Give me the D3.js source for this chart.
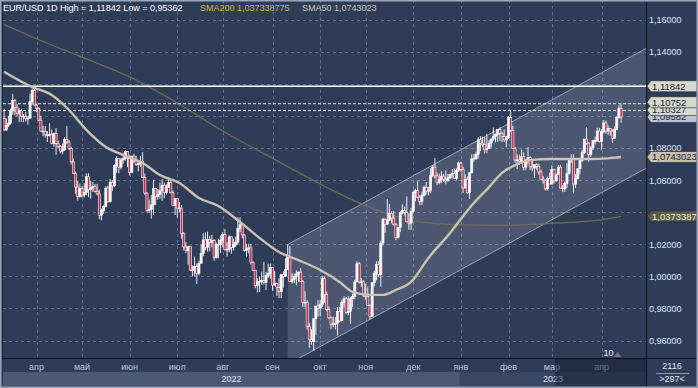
<!DOCTYPE html>
<meta charset="utf-8">
<script src="https://cdn.jsdelivr.net/npm/d3@7"></script>
<style>
  body { margin: 0; background: #2f3c58; }
  svg { display: block; font-family: "Liberation Sans", Arial, sans-serif; }
</style>
<div id="chart"></div>
<script>

// EUR/USD daily candles, [open, high, low, close], one array per month
var mar22 = [[1.0985,1.1042,1.0906,1.0912],[1.0912,1.0985,1.0905,1.0941],[1.0941,1.1000,1.0930,1.0955],[1.0955,1.1044,1.0945,1.1030],[1.1030,1.1137,1.1005,1.1095],
  [1.1095,1.1105,1.1003,1.1050],[1.1050,1.1072,1.0996,1.1016],[1.1016,1.1046,1.0960,1.1031],[1.1031,1.1041,1.0962,1.0998],[1.0998,1.1011,1.0960,1.0995],
  [1.0995,1.1025,1.0965,1.0983],[1.0983,1.0998,1.0944,1.0985],[1.0985,1.1137,1.0985,1.1089],[1.1089,1.1170,1.1069,1.1158],[1.1158,1.1184,1.1064,1.1067]];
var apr22 = [[1.1067,1.1076,1.1024,1.1046],[1.1046,1.1054,1.0970,1.0973],[1.0973,1.1000,1.0902,1.0904],[1.0904,1.0938,1.0873,1.0903],[1.0903,1.0936,1.0864,1.0881],
  [1.0881,1.0905,1.0837,1.0876],[1.0876,1.0954,1.0871,1.0885],[1.0885,1.0915,1.0822,1.0828],[1.0828,1.0894,1.0808,1.0890],[1.0890,1.0924,1.0757,1.0826],
  [1.0826,1.0846,1.0800,1.0810],[1.0810,1.0817,1.0766,1.0780],[1.0780,1.0827,1.0760,1.0788],[1.0788,1.0866,1.0782,1.0852],[1.0852,1.0936,1.0825,1.0837],
  [1.0837,1.0850,1.0786,1.0796],[1.0796,1.0806,1.0697,1.0713],[1.0713,1.0734,1.0637,1.0640],[1.0640,1.0653,1.0515,1.0556],[1.0556,1.0593,1.0472,1.0497],
  [1.0497,1.0578,1.0490,1.0545]];
var may22 = [[1.0545,1.0562,1.0490,1.0506],[1.0506,1.0580,1.0492,1.0522],[1.0522,1.0641,1.0506,1.0620],[1.0620,1.0642,1.0493,1.0540],[1.0540,1.0595,1.0484,1.0550],
  [1.0550,1.0589,1.0525,1.0560],[1.0560,1.0575,1.0522,1.0530],[1.0530,1.0577,1.0505,1.0513],[1.0513,1.0540,1.0354,1.0380],[1.0380,1.0422,1.0349,1.0410],
  [1.0410,1.0443,1.0390,1.0435],[1.0435,1.0562,1.0430,1.0550],[1.0550,1.0565,1.0458,1.0465],[1.0465,1.0607,1.0460,1.0586],[1.0586,1.0600,1.0532,1.0563],
  [1.0563,1.0697,1.0558,1.0690],[1.0690,1.0748,1.0645,1.0735],[1.0735,1.0736,1.0642,1.0680],[1.0680,1.0737,1.0666,1.0725],[1.0725,1.0765,1.0700,1.0733],
  [1.0733,1.0787,1.0720,1.0778],[1.0778,1.0780,1.0680,1.0733]];
var jun22 = [[1.0733,1.0757,1.0627,1.0648],[1.0648,1.0750,1.0642,1.0749],[1.0749,1.0764,1.0706,1.0719],[1.0719,1.0750,1.0688,1.0696],[1.0696,1.0710,1.0653,1.0704],
  [1.0704,1.0749,1.0681,1.0716],[1.0716,1.0773,1.0612,1.0615],[1.0615,1.0640,1.0506,1.0518],[1.0518,1.0524,1.0397,1.0410],[1.0410,1.0478,1.0396,1.0416],
  [1.0416,1.0506,1.0359,1.0445],[1.0445,1.0601,1.0382,1.0546],[1.0546,1.0551,1.0443,1.0496],[1.0496,1.0545,1.0477,1.0509],[1.0509,1.0583,1.0484,1.0534],
  [1.0534,1.0605,1.0470,1.0566],[1.0566,1.0584,1.0486,1.0521],[1.0521,1.0573,1.0511,1.0553],[1.0553,1.0615,1.0552,1.0583],[1.0583,1.0606,1.0517,1.0520],
  [1.0520,1.0535,1.0437,1.0442],[1.0442,1.0487,1.0382,1.0484]];
var jul22 = [[1.0484,1.0486,1.0366,1.0425],[1.0425,1.0462,1.0400,1.0425],[1.0425,1.0444,1.0235,1.0265],[1.0265,1.0276,1.0162,1.0183],[1.0183,1.0213,1.0144,1.0160],
  [1.0160,1.0190,1.0072,1.0185],[1.0185,1.0190,1.0033,1.0039],[1.0039,1.0068,0.9999,1.0036],[1.0036,1.0122,0.9998,1.0061],[1.0061,1.0081,0.9952,1.0019],
  [1.0019,1.0097,1.0006,1.0081],[1.0081,1.0200,1.0081,1.0141],[1.0141,1.0269,1.0125,1.0227],[1.0227,1.0273,1.0162,1.0180],[1.0180,1.0278,1.0154,1.0230],
  [1.0230,1.0253,1.0155,1.0212],[1.0212,1.0258,1.0180,1.0222],[1.0222,1.0232,1.0096,1.0118],[1.0118,1.0210,1.0110,1.0200],[1.0200,1.0235,1.0112,1.0198],
  [1.0198,1.0254,1.0145,1.0222]];
var aug22 = [[1.0222,1.0275,1.0180,1.0260],[1.0260,1.0294,1.0160,1.0165],[1.0165,1.0215,1.0123,1.0168],[1.0168,1.0254,1.0150,1.0246],[1.0246,1.0250,1.0141,1.0180],
  [1.0180,1.0235,1.0160,1.0196],[1.0196,1.0248,1.0183,1.0212],[1.0212,1.0368,1.0202,1.0297],[1.0297,1.0368,1.0275,1.0321],[1.0321,1.0330,1.0237,1.0258],
  [1.0258,1.0260,1.0154,1.0160],[1.0160,1.0201,1.0122,1.0170],[1.0170,1.0203,1.0141,1.0177],[1.0177,1.0202,1.0074,1.0088],[1.0088,1.0092,1.0033,1.0037],
  [1.0037,1.0040,0.9926,0.9942],[0.9942,0.9989,0.9900,0.9968],[0.9968,0.9999,0.9902,0.9969],[0.9969,1.0030,0.9948,0.9974],[0.9974,1.0090,0.9948,0.9963],
  [0.9963,1.0028,0.9914,1.0004],[1.0004,1.0079,0.9991,1.0019],[1.0019,1.0080,0.9985,1.0054]];
var sep22 = [[1.0054,1.0055,0.9910,0.9945],[0.9945,1.0034,0.9941,0.9954],[0.9954,0.9960,0.9877,0.9930],[0.9930,0.9988,0.9864,0.9904],[0.9904,1.0011,0.9864,1.0011],
  [1.0011,1.0030,0.9929,1.0000],[1.0000,1.0113,1.0000,1.0041],[1.0041,1.0198,1.0041,1.0121],[1.0121,1.0187,0.9966,0.9968],[0.9968,1.0019,0.9955,0.9980],
  [0.9980,1.0017,0.9956,1.0000],[1.0000,1.0037,0.9945,1.0015],[1.0015,1.0030,0.9966,1.0026],[1.0026,1.0051,0.9965,0.9969],[0.9969,0.9976,0.9809,0.9835],
  [0.9835,0.9908,0.9807,0.9838],[0.9838,0.9852,0.9668,0.9689],[0.9689,0.9710,0.9553,0.9605],[0.9605,0.9670,0.9574,0.9593],[0.9593,0.9738,0.9536,0.9735],
  [0.9735,0.9816,0.9636,0.9815],[0.9815,0.9853,0.9749,0.9802]];
var oct22 = [[0.9802,0.9851,0.9750,0.9825],[0.9825,0.9999,0.9808,0.9985],[0.9985,0.9999,0.9835,0.9885],[0.9885,0.9905,0.9782,0.9794],[0.9794,0.9814,0.9735,0.9741],
  [0.9741,0.9749,0.9670,0.9701],[0.9701,0.9749,0.9684,0.9706],[0.9706,0.9745,0.9669,0.9706],[0.9706,0.9807,0.9631,0.9780],[0.9780,0.9809,0.9714,0.9722],
  [0.9722,0.9853,0.9721,0.9838],[0.9838,0.9875,0.9807,0.9860],[0.9860,0.9873,0.9764,0.9774],[0.9774,0.9875,0.9758,0.9782],[0.9782,0.9871,0.9704,0.9860],
  [0.9860,0.9893,0.9808,0.9875],[0.9875,0.9979,0.9858,0.9965],[0.9965,1.0094,0.9965,1.0078],[1.0078,1.0088,0.9954,0.9965],[0.9965,0.9989,0.9934,0.9965],
  [0.9965,0.9976,0.9871,0.9883]];
var nov22 = [[0.9883,0.9954,0.9853,0.9875],[0.9875,0.9936,0.9815,0.9820],[0.9820,0.9825,0.9730,0.9750],[0.9750,0.9963,0.9746,0.9960],[0.9960,1.0034,0.9937,1.0020],
  [1.0020,1.0094,0.9975,1.0073],[1.0073,1.0096,0.9994,1.0010],[1.0010,1.0222,0.9935,1.0207],[1.0207,1.0365,1.0193,1.0354],[1.0354,1.0362,1.0271,1.0325],
  [1.0325,1.0481,1.0322,1.0350],[1.0350,1.0450,1.0345,1.0393],[1.0393,1.0405,1.0330,1.0363],[1.0363,1.0406,1.0316,1.0325],[1.0325,1.0330,1.0225,1.0243],
  [1.0243,1.0307,1.0235,1.0304],[1.0304,1.0406,1.0275,1.0397],[1.0397,1.0448,1.0385,1.0410],[1.0410,1.0435,1.0379,1.0398],[1.0398,1.0498,1.0339,1.0339],
  [1.0339,1.0393,1.0290,1.0331],[1.0331,1.0428,1.0288,1.0405]];
var dec22 = [[1.0405,1.0534,1.0392,1.0523],[1.0523,1.0545,1.0467,1.0535],[1.0535,1.0595,1.0486,1.0492],[1.0492,1.0505,1.0443,1.0466],[1.0466,1.0528,1.0444,1.0505],
  [1.0505,1.0564,1.0497,1.0555],[1.0555,1.0588,1.0510,1.0530],[1.0530,1.0557,1.0503,1.0535],[1.0535,1.0673,1.0517,1.0630],[1.0630,1.0694,1.0617,1.0680],
  [1.0680,1.0737,1.0610,1.0625],[1.0625,1.0647,1.0568,1.0584],[1.0584,1.0640,1.0573,1.0605],[1.0605,1.0657,1.0580,1.0624],[1.0624,1.0638,1.0588,1.0605],
  [1.0605,1.0660,1.0573,1.0595],[1.0595,1.0638,1.0589,1.0614],[1.0614,1.0640,1.0605,1.0635],[1.0635,1.0668,1.0610,1.0640],[1.0640,1.0673,1.0612,1.0610],
  [1.0610,1.0673,1.0598,1.0660],[1.0660,1.0714,1.0650,1.0705]];
var jan23 = [[1.0705,1.0713,1.0653,1.0665],[1.0665,1.0683,1.0519,1.0550],[1.0550,1.0635,1.0547,1.0605],[1.0605,1.0623,1.0516,1.0520],[1.0520,1.0648,1.0483,1.0645],
  [1.0645,1.0760,1.0640,1.0730],[1.0730,1.0762,1.0713,1.0735],[1.0735,1.0777,1.0726,1.0760],[1.0760,1.0866,1.0732,1.0850],[1.0850,1.0874,1.0780,1.0830],
  [1.0830,1.0870,1.0805,1.0820],[1.0820,1.0867,1.0766,1.0790],[1.0790,1.0887,1.0768,1.0795],[1.0795,1.0848,1.0793,1.0830],[1.0830,1.0860,1.0803,1.0855],
  [1.0855,1.0927,1.0845,1.0870],[1.0870,1.0890,1.0834,1.0885],[1.0885,1.0917,1.0838,1.0915],[1.0915,1.0929,1.0843,1.0890],[1.0890,1.0900,1.0836,1.0870],
  [1.0870,1.0915,1.0836,1.0850],[1.0850,1.0875,1.0804,1.0862]];
var feb23 = [[1.0862,1.0999,1.0855,1.0990],[1.0990,1.1033,1.0898,1.0910],[1.0910,1.0938,1.0793,1.0795],[1.0795,1.0805,1.0707,1.0725],[1.0725,1.0758,1.0668,1.0725],
  [1.0725,1.0758,1.0693,1.0715],[1.0715,1.0790,1.0702,1.0745],[1.0745,1.0772,1.0659,1.0680],[1.0680,1.0729,1.0660,1.0725],[1.0725,1.0805,1.0701,1.0740],
  [1.0740,1.0747,1.0662,1.0685],[1.0685,1.0721,1.0655,1.0675],[1.0675,1.0695,1.0613,1.0695],[1.0695,1.0705,1.0664,1.0685],[1.0685,1.0701,1.0633,1.0650],
  [1.0650,1.0665,1.0602,1.0605],[1.0605,1.0626,1.0577,1.0595],[1.0595,1.0603,1.0535,1.0545],[1.0545,1.0621,1.0534,1.0610],[1.0610,1.0645,1.0573,1.0575]];
var mar23 = [[1.0575,1.0691,1.0570,1.0665],[1.0665,1.0670,1.0577,1.0595],[1.0595,1.0640,1.0587,1.0635],[1.0635,1.0694,1.0633,1.0680],[1.0680,1.0695,1.0547,1.0550],
  [1.0550,1.0567,1.0524,1.0545],[1.0545,1.0590,1.0525,1.0580],[1.0580,1.0705,1.0551,1.0640],[1.0640,1.0736,1.0633,1.0730],[1.0730,1.0760,1.0706,1.0730],
  [1.0730,1.0760,1.0516,1.0575],[1.0575,1.0637,1.0551,1.0610],[1.0610,1.0672,1.0603,1.0670],[1.0670,1.0729,1.0635,1.0720],[1.0720,1.0788,1.0712,1.0770],
  [1.0770,1.0855,1.0760,1.0855],[1.0855,1.0930,1.0820,1.0830],[1.0830,1.0835,1.0713,1.0760],[1.0760,1.0810,1.0743,1.0800],[1.0800,1.0849,1.0786,1.0845],
  [1.0845,1.0870,1.0822,1.0845],[1.0845,1.0926,1.0837,1.0905],[1.0905,1.0925,1.0834,1.0840]];
var apr23 = [[1.0840,1.0917,1.0788,1.0900],[1.0900,1.0973,1.0890,1.0955],[1.0955,1.0970,1.0889,1.0905],[1.0905,1.0940,1.0880,1.0920],[1.0920,1.0922,1.0877,1.0905],
  [1.0905,1.0915,1.0831,1.0860],[1.0860,1.0935,1.0859,1.0915],[1.0915,1.0997,1.0910,1.0990],[1.0990,1.1066,1.0982,1.1045],[1.1045,1.10752,1.0957,1.0993]];

// moving averages, [bar index, value]
var sma50 = [[0,1.1275],[13,1.1179],[22,1.1130],[30,1.1036],[38,1.0912],[47,1.0806],[55,1.0756],[64,1.0706],[72,1.0631],
  [81,1.0581],[90,1.0488],[99,1.0438],[109,1.0338],[118,1.0239],[127,1.0151],[136,1.0101],[146,1.0039],[155,0.9965],
  [161,0.9903],[169,0.9884],[175,0.9884],[181,0.9915],[188,0.9965],[196,1.0114],[206,1.0270],[215,1.0426],[224,1.0556],
  [230,1.0644],[236,1.0693],[243,1.0724],[252,1.0731],[261,1.0731],[270,1.0731],[279,1.0735],[285,1.0743]];
var sma200 = [[0,1.1570],[15,1.1480],[36,1.1366],[58,1.1242],[80,1.1080],[101,1.0905],[124,1.0735],[146,1.0575],
  [167,1.0440],[189,1.0345],[211,1.0320],[233,1.0318],[253,1.0330],[276,1.0352],[285,1.0373]];

// trend channel: [bar index, price]
var channelUpper = [[131,1.0198],[296.5,1.1420]];
var channelLower = [[131,0.9451],[296.5,1.0673]];

// price levels drawn as lines
var levelSolid = [1.11842];
var levelDashed = [1.10752, 1.10327];

var yTicks = [1.16,1.14,1.12,1.10,1.08,1.06,1.04,1.02,1.00,0.98,0.96];
var monthNames = ["янв","фев","мар","апр","май","июн","июл","авг","сен","окт","ноя","дек"];
var visibleBars = 297;

var candles = [].concat(mar22, apr22, may22, jun22, jul22, aug22, sep22, oct22, nov22, dec22, jan23, feb23, mar23, apr23);

// trading days (weekdays) from the first bar
var days = d3.timeDay.range(new Date(2022, 2, 11), new Date(2023, 3, 15))
  .filter(function(d){ return d.getDay() !== 0 && d.getDay() !== 6; });

var W = 698, H = 388;
var plot = {left: 3, right: 646, top: 0, bottom: 358};
var bg = "#2f3c58";

var svg = d3.select("#chart").append("svg").attr("width", W).attr("height", H);

var x = d3.scaleLinear().domain([-0.5, visibleBars - 0.5]).range([plot.left, plot.right]);
var y = d3.scaleLinear().domain([0.96, 1.16]).range([340.5, 19.5]);
var fmt = function(v){ return d3.format(".5f")(v).replace(".", ","); };

svg.append("rect").attr("width", W).attr("height", H).attr("fill", bg);

svg.append("defs").append("clipPath").attr("id", "clip")
  .append("rect").attr("x", plot.left).attr("y", plot.top)
  .attr("width", plot.right - plot.left).attr("height", plot.bottom - plot.top);

// month starts
var monthStarts = [];
days.forEach(function(d, i){
  if (i > 0 && d.getMonth() !== days[i-1].getMonth()) monthStarts.push(i);
});

// grid
var grid = svg.append("g").attr("stroke", "#62708e").attr("stroke-dasharray", "3,3").attr("stroke-width", 1);
grid.selectAll("line.h").data(yTicks).join("line")
  .attr("x1", plot.left).attr("x2", plot.right)
  .attr("y1", function(d){ return Math.round(y(d)) + 0.5; })
  .attr("y2", function(d){ return Math.round(y(d)) + 0.5; });
grid.selectAll("line.v").data(monthStarts).join("line")
  .attr("y1", plot.top).attr("y2", plot.bottom)
  .attr("x1", function(i){ return Math.round(x(i)) + 0.5; })
  .attr("x2", function(i){ return Math.round(x(i)) + 0.5; });

var pg = svg.append("g").attr("clip-path", "url(#clip)");

// channel
var chPoly = [channelUpper[0], channelUpper[1], channelLower[1], channelLower[0]];
pg.append("polygon")
  .attr("points", chPoly.map(function(p){ return x(p[0]) + "," + y(p[1]); }).join(" "))
  .attr("fill", "rgba(215,222,235,0.17)");
[channelUpper, channelLower].forEach(function(c){
  pg.append("line")
    .attr("x1", x(c[0][0])).attr("y1", y(c[0][1]))
    .attr("x2", x(c[1][0])).attr("y2", y(c[1][1]))
    .attr("stroke", "#9ea6b6").attr("stroke-width", 1);
});

// SMA200
var line = d3.line().x(function(d){ return x(d[0]); }).y(function(d){ return y(d[1]); }).curve(d3.curveMonotoneX);
pg.append("path").datum(sma200).attr("d", line)
  .attr("fill", "none").attr("stroke", "#6e6b5c").attr("stroke-width", 1.3);

// level lines
pg.selectAll("line.solid").data(levelSolid).join("line")
  .attr("x1", plot.left).attr("x2", plot.right)
  .attr("y1", function(d){ return y(d); }).attr("y2", function(d){ return y(d); })
  .attr("stroke", "#ffffff").attr("stroke-width", 1.4);
pg.selectAll("line.dashed").data(levelDashed).join("line")
  .attr("x1", plot.left).attr("x2", plot.right)
  .attr("y1", function(d){ return y(d); }).attr("y2", function(d){ return y(d); })
  .attr("stroke", "#e6e9f0").attr("stroke-width", 1).attr("stroke-dasharray", "3,2");

// candles
var step = x(1) - x(0);
var cg = pg.append("g");
cg.selectAll("line.wick").data(candles).join("line")
  .attr("x1", function(d, i){ return x(i); }).attr("x2", function(d, i){ return x(i); })
  .attr("y1", function(d){ return y(d[1]); }).attr("y2", function(d){ return y(d[2]); })
  .attr("stroke", "#ffffff").attr("stroke-width", 0.9);
cg.selectAll("rect.body").data(candles).join("rect")
  .attr("x", function(d, i){ return x(i) - step * 0.5; })
  .attr("width", step)
  .attr("y", function(d){ return y(Math.max(d[0], d[3])); })
  .attr("height", function(d){ return Math.max(0.8, Math.abs(y(d[0]) - y(d[3]))); })
  .attr("fill", function(d){ return d[3] < d[0] ? "#c12b47" : "#f4f6fa"; })
  .attr("stroke", "#ffffff").attr("stroke-width", 0.6);

// SMA50
pg.append("path").datum(sma50).attr("d", line)
  .attr("fill", "none").attr("stroke", "#cbc2b4").attr("stroke-width", 2.4);

// marker "10"
svg.append("text").attr("x", x(276) + 2).attr("y", 355.5)
  .attr("font-size", 9).attr("fill", "#f0f2f6").text("10");
svg.append("path")
  .attr("d", "M" + (x(276) + 12) + ",357 l4,-5 l4,5 z").attr("fill", "#6c7590");

// header
svg.append("text").attr("x", 3).attr("y", 10.5).attr("font-size", 9).attr("fill", "#ffffff").text("EUR/USD 1D High = 1,11842 Low = 0,95362");
svg.append("text").attr("x", 200).attr("y", 10.5).attr("font-size", 9).attr("fill", "#d6b548").text("SMA200 1,037338775");
svg.append("text").attr("x", 302).attr("y", 10.5).attr("font-size", 9).attr("fill", "#cfc7ba").text("SMA50 1,0743023");

// price tags
var tags = [
  {txt: "1,0373387", y: y(1.037338775), bg: "#5d5b48", fg: "#ece8d6"},
  {txt: "1,0743023", y: y(1.0743023), bg: "#c9c0b0", fg: "#1d2130"},
  {txt: "1,09582", y: y(1.10327) + 6.5, bg: "#b9c3d4", fg: "#1d2130"},
  {txt: "1,10327", y: y(1.10327) - 0.5, bg: "#d7d9cd", fg: "#1d2130"},
  {txt: "1,10752", y: y(1.10752) - 1.5, bg: "#d7d9cd", fg: "#1d2130"},
  {txt: "1,11842", y: y(1.11842), bg: "#d7d9cd", fg: "#1d2130"}
];

// right axis: tick labels hidden under a tag are left out
svg.append("rect").attr("x", plot.right).attr("y", 0).attr("width", W - plot.right).attr("height", plot.bottom).attr("fill", bg);
var shownTicks = yTicks.filter(function(v){
  return tags.every(function(t){ return Math.abs(t.y - y(v)) > 5; });
});
svg.append("g").selectAll("text").data(shownTicks).join("text")
  .attr("x", 649).attr("y", function(d){ return y(d) + 3.5; })
  .attr("font-size", 9).attr("fill", "#dfe5f0").text(fmt);

var tg = svg.append("g");
tags.forEach(function(t){
  var g = tg.append("g").attr("transform", "translate(0," + t.y + ")");
  g.append("path").attr("d", "M647,0 L651,-5.5 L697,-5.5 L697,5.5 L651,5.5 Z")
    .attr("fill", t.bg).attr("stroke", "#1c2434").attr("stroke-width", 0.6);
  g.append("text").attr("x", 652).attr("y", 3.4).attr("font-size", 9.5).attr("fill", t.fg).text(t.txt);
});

// bottom axis
svg.append("rect").attr("x", 0).attr("y", plot.bottom).attr("width", W).attr("height", H - plot.bottom).attr("fill", bg);
var yearStart = days.findIndex(function(d){ return d.getFullYear() === 2023; });
var years = [
  {label: "2022", a: -0.5, b: yearStart - 0.5, fill: "#4b5977"},
  {label: "2023", a: yearStart - 0.5, b: visibleBars - 0.5, fill: "#3a4764"}
];
svg.selectAll("rect.year").data(years).join("rect")
  .attr("x", function(d){ return x(d.a); }).attr("width", function(d){ return x(d.b) - x(d.a); })
  .attr("y", 372).attr("height", 14).attr("fill", function(d){ return d.fill; });
svg.selectAll("text.year").data(years).join("text")
  .attr("x", function(d){ return (x(d.a) + x(d.b)) / 2; }).attr("y", 382)
  .attr("text-anchor", "middle").attr("font-size", 9).attr("fill", "#dfe5f0").text(function(d){ return d.label; });
svg.selectAll("text.month").data(monthStarts).join("text")
  .attr("x", function(i){ return x(i); }).attr("y", 370)
  .attr("text-anchor", "middle").attr("font-size", 9).attr("fill", "#b9c4d8")
  .text(function(i){ return monthNames[days[i].getMonth()]; });
// shaded tail of the time axis
svg.append("rect").attr("x", 555).attr("y", 359).attr("width", plot.right - 555).attr("height", 27)
  .attr("fill", "rgba(22,30,48,0.5)");

// bar counter box
svg.append("text").attr("x", 672).attr("y", 369).attr("text-anchor", "middle").attr("font-size", 9).attr("fill", "#e4e9f2").text("2116");
svg.append("line").attr("x1", 656).attr("x2", 689).attr("y1", 373.5).attr("y2", 373.5).attr("stroke", "#8e9ab0");
svg.append("text").attr("x", 672).attr("y", 382).attr("text-anchor", "middle").attr("font-size", 9).attr("fill", "#e4e9f2").text(">" + visibleBars + "<");

// frame lines
svg.append("line").attr("x1", 0).attr("x2", W).attr("y1", plot.bottom + 0.5).attr("y2", plot.bottom + 0.5).attr("stroke", "#0c111c");
svg.append("line").attr("x1", plot.right + 0.5).attr("x2", plot.right + 0.5).attr("y1", 0).attr("y2", H).attr("stroke", "#0c111c");
svg.append("line").attr("x1", 2.5).attr("x2", 2.5).attr("y1", 0).attr("y2", plot.bottom).attr("stroke", "#1c2538");
svg.append("rect").attr("x", 0.75).attr("y", 0.75).attr("width", W - 1.5).attr("height", H - 1.5)
  .attr("fill", "none").attr("stroke", "#9aa7bb").attr("stroke-width", 1.5);

</script>
